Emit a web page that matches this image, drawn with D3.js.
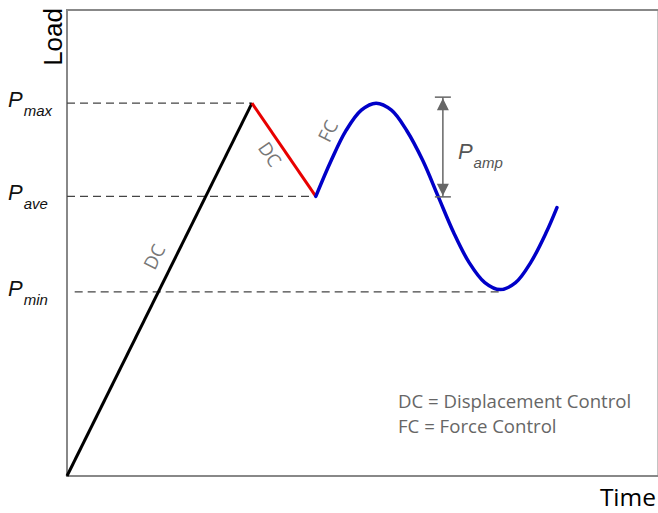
<!DOCTYPE html>
<html>
<head>
<meta charset="utf-8">
<script src="https://cdn.jsdelivr.net/npm/d3@7"></script>
<style>
  html, body { margin: 0; padding: 0; background: #fff; }
  svg { display: block; }
</style>
</head>
<body>
<div id="chart"></div>
<script>
// load levels (time units 0-100, load units 0-100)
const levelNames = ['max', 'ave', 'min'];
const levelValues = [80, 60, 39.5];
const levelStarts = [0, 0, 1.3];
const levelEnds = [31.3, 42.1, 73.3];

// DC ramp up, DC unload, FC cycling
const rampTime = [0, 31.3];
const rampLoad = [0, 80];
const unloadTime = [31.3, 42.1];
const unloadLoad = [80, 60];
const fcTime = [42.1, 44.7, 47.2, 49.8, 52.3, 54.9, 57.5, 60.2, 62.8, 65.4, 68.0, 70.7, 73.3, 75.9, 78.5, 81.1, 82.9];
const fcLoad = [60, 67.7, 74.1, 78.5, 80, 78.5, 74.1, 67.7, 60, 52.3, 45.9, 41.5, 40, 41.5, 45.9, 52.3, 57.6];

const ampTime = 63.6;
const ampRange = [81.3, 59.9];

const legendLines = ['DC = Displacement Control', 'FC = Force Control'];

const W = 658, H = 513;
const x = d3.scaleLinear().domain([0, 100]).range([67, 658]);
const y = d3.scaleLinear().domain([0, 100]).range([476, 10]);

const svg = d3.select('#chart').append('svg')
  .attr('width', W)
  .attr('height', H);

const toPts = (ts, ls) => ts.map((t, i) => [t, ls[i]]);
const line = d3.line().x(d => x(d[0])).y(d => y(d[1]));

// frame
svg.append('rect')
  .attr('x', x(0)).attr('y', y(100))
  .attr('width', x(100) - x(0) + 0.5)
  .attr('height', y(0) - y(100))
  .attr('fill', 'none')
  .attr('stroke', '#888')
  .attr('stroke-width', 2);

// dashed level lines
svg.append('g')
  .selectAll('line')
  .data(levelValues)
  .join('line')
  .attr('x1', (d, i) => x(levelStarts[i]))
  .attr('x2', (d, i) => x(levelEnds[i]))
  .attr('y1', d => y(d))
  .attr('y2', d => y(d))
  .attr('stroke', '#444')
  .attr('stroke-width', 1.2)
  .attr('stroke-dasharray', '8,5');

// level labels
const lab = svg.append('g')
  .attr('font-family', 'Liberation Sans, Arial, sans-serif')
  .attr('font-style', 'italic')
  .attr('fill', '#111')
  .selectAll('text')
  .data(levelNames)
  .join('text')
  .attr('x', 8)
  .attr('y', (d, i) => y(levelValues[i]) + 4);
lab.append('tspan').attr('font-size', 22).text('P');
lab.append('tspan').attr('font-size', 15).attr('dy', 9).attr('dx', 1).text(d => d);

// curves
svg.append('path')
  .attr('d', line(toPts(rampTime, rampLoad)))
  .attr('fill', 'none').attr('stroke', '#000').attr('stroke-width', 3);

svg.append('path')
  .attr('d', line(toPts(unloadTime, unloadLoad)))
  .attr('fill', 'none').attr('stroke', '#e80000').attr('stroke-width', 3);

svg.append('path')
  .attr('d', line.curve(d3.curveCatmullRom)(toPts(fcTime, fcLoad)))
  .attr('fill', 'none').attr('stroke', '#0000c8').attr('stroke-width', 3.5)
  .attr('stroke-linecap', 'round');

// amplitude arrow
const ax = x(ampTime), ay1 = y(ampRange[0]), ay2 = y(ampRange[1]);
const arrow = svg.append('g').attr('stroke', '#666').attr('fill', '#666');
arrow.append('line')
  .attr('x1', ax).attr('x2', ax).attr('y1', ay1).attr('y2', ay2)
  .attr('stroke-width', 1.5);
arrow.selectAll('.bar')
  .data([ay1, ay2])
  .join('line')
  .attr('x1', ax - 8).attr('x2', ax + 8)
  .attr('y1', d => d).attr('y2', d => d)
  .attr('stroke-width', 1.5);
arrow.append('path')
  .attr('stroke', 'none')
  .attr('d', `M${ax},${ay1 + 1}L${ax - 6},${ay1 + 13}L${ax + 6},${ay1 + 13}Z` +
             `M${ax},${ay2 - 1}L${ax - 6},${ay2 - 13}L${ax + 6},${ay2 - 13}Z`);

const pamp = svg.append('text')
  .attr('font-family', 'Liberation Sans, Arial, sans-serif')
  .attr('font-style', 'italic')
  .attr('fill', '#555')
  .attr('x', ax + 15)
  .attr('y', ay1 + 62);
pamp.append('tspan').attr('font-size', 22).text('P');
pamp.append('tspan').attr('font-size', 15).attr('dy', 9).attr('dx', 1).text('amp');

// segment labels
const angUp = Math.atan2(y(rampLoad[1]) - y(rampLoad[0]), x(rampTime[1]) - x(rampTime[0])) * 180 / Math.PI;
const angDown = Math.atan2(y(unloadLoad[1]) - y(unloadLoad[0]), x(unloadTime[1]) - x(unloadTime[0])) * 180 / Math.PI;
const segLabels = [
  { text: 'DC', t: 14.8, l: 47, ang: angUp },
  { text: 'DC', t: 34.3, l: 69, ang: angDown },
  { text: 'FC', t: 44.2, l: 74, ang: angUp }
];
svg.append('g')
  .attr('font-family', 'Open Sans, sans-serif')
  .attr('font-size', 18.5)
  .attr('fill', '#777')
  .attr('text-anchor', 'middle')
  .selectAll('text')
  .data(segLabels)
  .join('text')
  .attr('transform', d => `translate(${x(d.t)},${y(d.l)}) rotate(${d.ang})`)
  .attr('dy', '0.35em')
  .text(d => d.text);

// legend
svg.append('g')
  .attr('font-family', 'Open Sans, sans-serif')
  .attr('font-size', 18.6)
  .attr('fill', '#666')
  .selectAll('text')
  .data(legendLines)
  .join('text')
  .attr('x', 398)
  .attr('y', (d, i) => 408 + i * 25)
  .text(d => d);

// axis titles
svg.append('text')
  .attr('font-family', 'Liberation Sans, Arial, sans-serif')
  .attr('font-size', 26)
  .attr('text-anchor', 'end')
  .attr('transform', `translate(${x(0) - 5},${y(100) - 2}) rotate(-90)`)
  .text('Load');

svg.append('text')
  .attr('font-family', 'Open Sans, sans-serif')
  .attr('font-size', 24.5)
  .attr('text-anchor', 'end')
  .attr('x', 656)
  .attr('y', 506)
  .text('Time');
</script>
</body>
</html>
